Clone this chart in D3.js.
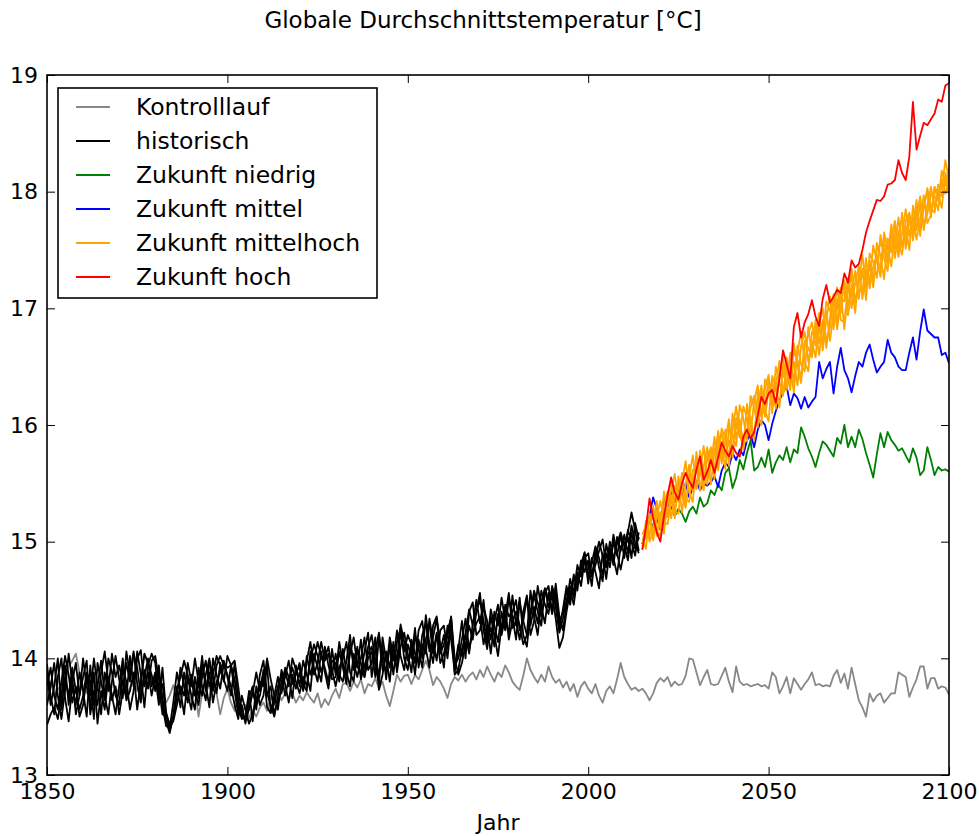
<!DOCTYPE html>
<html>
<head>
<meta charset="utf-8">
<script src="https://cdn.jsdelivr.net/npm/d3@7"></script>
<style>
  body { margin: 0; background: #fff; }
  text { font-family: "DejaVu Sans", sans-serif; fill: #000; }
  .axis path { display: none; }
  .axis line { stroke: #000; stroke-width: 1; }
  .axis text { font-size: 22px; }
</style>
</head>
<body>
<div class="chart"></div>
<script>
// yearly global mean temperature [°C]
var controlStart = 1850;
var control = [
  13.72, 13.80, 13.68, 13.75, 13.70, 13.85, 13.93, 13.98, 14.04, 13.88,
  13.76, 13.70, 13.82, 13.74, 13.66, 13.78, 13.72, 13.80, 13.68, 13.74,
  13.70, 13.79, 13.66, 13.75, 13.83, 13.72, 13.80, 14.03, 13.95, 13.82,
  13.74, 13.86, 13.70, 13.62, 13.68, 13.77, 13.66, 13.72, 13.80, 13.70,
  13.64, 13.76, 13.50, 13.70, 13.82, 13.74, 13.85, 13.70, 13.52, 13.66,
  13.74, 13.62, 13.55, 13.70, 13.52, 13.60, 13.49, 13.56, 13.50, 13.58,
  13.62, 13.55, 13.68, 13.60, 13.72, 13.64, 13.70, 13.66, 13.70, 13.62,
  13.68, 13.64, 13.71, 13.66, 13.62, 13.70, 13.58, 13.65, 13.60, 13.68,
  13.74, 13.66, 13.78, 13.79, 13.72, 13.80, 13.75, 13.82, 13.70, 13.78,
  13.76, 13.83, 13.74, 13.80, 13.68, 13.59, 13.72, 13.86, 13.80, 13.85,
  13.86, 13.78, 13.86, 13.82, 13.90, 13.98, 13.90, 13.77, 13.84, 13.80,
  13.74, 13.66, 13.78, 13.84, 13.81, 13.86, 13.80, 13.85, 13.88, 13.82,
  13.90, 13.84, 13.93, 13.86, 13.80, 13.88, 13.84, 13.94, 13.88, 13.80,
  13.76, 13.73, 13.85, 14.00, 13.90, 13.84, 13.79, 13.86, 13.80, 13.93,
  13.84, 13.79, 13.82, 13.75, 13.80, 13.72, 13.78, 13.67, 13.76, 13.80,
  13.74, 13.70, 13.78, 13.68, 13.62, 13.72, 13.76, 13.70, 13.82, 13.96,
  13.84, 13.78, 13.73, 13.75, 13.72, 13.74, 13.70, 13.64, 13.70, 13.79,
  13.83, 13.80, 13.84, 13.76, 13.80, 13.77, 13.78, 13.85, 14.00, 13.99,
  13.88, 13.77, 13.84, 13.90, 13.78, 13.77, 13.78, 13.85, 13.92, 13.80,
  13.71, 13.93, 13.80, 13.77, 13.78, 13.76, 13.77, 13.78, 13.76, 13.77,
  13.74, 13.88, 13.84, 13.70, 13.76, 13.84, 13.70, 13.83, 13.78, 13.73,
  13.78, 13.82, 13.88, 13.77, 13.78, 13.76, 13.77, 13.76, 13.85, 13.90,
  13.79, 13.87, 13.74, 13.92, 13.78, 13.64, 13.58, 13.50, 13.70, 13.63,
  13.68, 13.70, 13.62, 13.66, 13.70, 13.70, 13.88, 13.86, 13.84, 13.67,
  13.75, 13.82, 13.93, 13.93, 13.74, 13.83, 13.83, 13.74, 13.76, 13.75,
  13.69
];

var histStart = 1850;
var hist1 = [
  13.95, 13.68, 13.52, 13.84, 14.00, 13.66, 13.46, 13.76, 13.60, 13.88,
  13.72, 13.50, 13.94, 13.60, 13.76, 13.98, 13.68, 13.52, 13.80, 14.02,
  13.82, 13.66, 14.06, 13.86, 14.06, 13.78, 13.62, 13.90, 13.74, 13.98,
  14.02, 13.82, 13.66, 13.46, 13.36, 13.50, 13.76, 13.58, 13.88, 13.70,
  13.56, 13.84, 13.66, 13.94, 13.78, 13.58, 14.00, 13.86, 13.74, 13.96,
  13.92, 13.94, 13.72, 13.52, 13.60, 13.44, 13.66, 13.76, 13.56, 13.86,
  13.98, 13.70, 13.60, 13.50, 13.68, 13.90, 13.78, 13.62, 13.86, 13.74,
  13.88, 13.72, 13.98, 14.14, 13.92, 13.80, 14.06, 13.88, 13.74, 13.98,
  13.96, 13.80, 14.08, 13.88, 13.76, 14.04, 13.92, 14.16, 13.84, 14.00,
  14.06, 13.84, 14.18, 13.90, 14.02, 13.80, 14.10, 13.98, 14.29, 14.14,
  13.98, 14.08, 13.86, 14.16, 14.00, 14.37, 14.12, 13.96, 14.20, 14.04,
  14.12, 14.24, 14.34, 13.86, 13.90, 14.08, 14.20, 14.04, 14.30, 14.40,
  14.56, 14.24, 14.08, 14.36, 14.20, 14.02, 14.28, 14.44, 14.16, 14.32,
  14.40, 14.28, 14.12, 14.20, 14.58, 14.36, 14.20, 14.48, 14.60, 14.44,
  14.54, 14.34, 14.09, 14.18, 14.40, 14.58, 14.46, 14.70, 14.76, 14.90,
  14.64, 14.86, 14.74, 14.60, 14.90, 14.78, 15.00, 14.86, 14.72, 14.96,
  14.98, 15.08, 15.25, 15.10, 14.92
];
var hist2 = [
  13.43, 13.52, 13.58, 13.48, 13.68, 13.94, 13.60, 13.84, 13.52, 13.68,
  14.00, 13.76, 13.60, 13.88, 13.44, 13.72, 13.56, 13.84, 13.68, 13.52,
  13.76, 14.00, 13.64, 13.72, 13.88, 13.56, 13.80, 14.04, 13.96, 13.86,
  13.72, 13.94, 13.60, 13.42, 13.40, 13.62, 13.88, 13.72, 13.52, 13.84,
  13.68, 13.56, 13.92, 13.76, 13.64, 13.98, 13.84, 13.70, 13.96, 13.80,
  14.02, 13.94, 13.82, 13.58, 13.48, 13.50, 13.72, 13.46, 13.76, 13.60,
  13.68, 13.94, 13.54, 13.68, 13.84, 13.70, 13.92, 13.84, 13.66, 13.94,
  13.76, 13.98, 13.86, 13.72, 14.04, 13.92, 13.80, 14.10, 13.94, 13.82,
  13.84, 14.06, 13.92, 13.78, 14.12, 13.96, 13.84, 14.00, 14.18, 13.90,
  13.96, 14.18, 13.73, 13.86, 14.06, 13.92, 14.14, 13.88, 14.10, 14.22,
  14.04, 13.88, 14.20, 14.08, 13.92, 14.16, 14.30, 14.04, 14.22, 13.96,
  14.04, 14.20, 14.36, 14.00, 13.86, 13.96, 14.12, 14.28, 14.16, 14.40,
  14.50, 14.32, 14.12, 14.42, 14.28, 14.14, 14.40, 14.24, 14.52, 14.36,
  14.16, 14.48, 14.32, 14.20, 14.36, 14.54, 14.40, 14.28, 14.60, 14.50,
  14.58, 14.44, 14.22, 14.34, 14.50, 14.62, 14.52, 14.74, 14.62, 14.84,
  14.80, 14.62, 14.94, 14.78, 14.66, 14.98, 14.84, 15.06, 14.90, 14.76,
  14.92, 15.04, 14.86, 15.16, 15.02
];
var hist3 = [
  13.76, 13.92, 13.68, 13.56, 13.80, 14.02, 13.86, 13.62, 13.76, 13.50,
  13.60, 13.84, 13.68, 14.00, 13.76, 13.52, 13.88, 13.72, 14.04, 13.84,
  13.94, 13.78, 13.66, 14.02, 13.76, 14.06, 13.86, 13.58, 13.94, 14.04,
  13.96, 13.66, 13.78, 13.52, 13.44, 13.48, 13.68, 13.92, 13.76, 13.62,
  13.86, 13.72, 13.60, 13.84, 13.98, 13.76, 13.86, 14.02, 13.94, 13.82,
  13.72, 13.94, 13.98, 13.76, 13.52, 13.46, 13.58, 13.70, 13.88, 13.72,
  13.90, 13.58, 13.53, 13.62, 13.76, 13.86, 13.68, 13.82, 13.92, 13.80,
  13.70, 13.84, 13.76, 13.98, 14.12, 14.02, 13.88, 14.00, 14.10, 13.90,
  13.76, 13.92, 14.00, 14.14, 13.88, 13.80, 14.08, 13.96, 13.84, 14.10,
  14.20, 13.98, 13.86, 14.10, 13.82, 14.12, 13.98, 14.24, 14.02, 13.90,
  14.12, 14.00, 14.26, 13.92, 14.12, 14.04, 14.34, 14.14, 13.98, 14.24,
  14.28, 14.08, 14.35, 13.94, 14.00, 14.16, 14.34, 14.08, 14.22, 14.30,
  14.36, 14.12, 14.28, 14.04, 14.32, 14.46, 14.20, 14.36, 14.56, 14.26,
  14.32, 14.16, 14.40, 14.54, 14.28, 14.44, 14.30, 14.58, 14.46, 14.38,
  14.62, 14.50, 14.30, 14.40, 14.58, 14.46, 14.70, 14.62, 14.80, 14.91,
  14.70, 14.82, 14.96, 14.86, 14.72, 14.90, 14.78, 15.00, 14.88, 15.06,
  14.86, 15.10, 15.00, 14.88, 15.08
];
var hist4 = [
  13.60, 13.76, 13.96, 13.68, 13.48, 13.72, 14.04, 13.80, 13.96, 13.68,
  13.84, 13.98, 13.52, 13.72, 13.60, 13.88, 14.06, 13.80, 13.64, 13.76,
  13.52, 13.72, 13.96, 13.80, 14.04, 13.92, 13.68, 13.84, 14.00, 13.76,
  13.88, 13.76, 13.52, 13.50, 13.38, 13.50, 13.72, 13.84, 13.98, 13.86,
  13.76, 14.00, 13.80, 13.68, 13.86, 14.00, 13.72, 13.94, 14.02, 13.94,
  13.86, 13.76, 13.60, 13.48, 13.68, 13.56, 13.44, 13.52, 13.64, 13.80,
  13.76, 14.00, 13.82, 13.68, 13.56, 13.80, 13.90, 13.76, 14.00, 13.90,
  13.92, 13.74, 14.02, 13.86, 13.98, 14.14, 14.02, 13.92, 13.80, 14.08,
  13.86, 14.14, 13.96, 13.84, 14.04, 14.18, 13.94, 13.86, 14.06, 14.22,
  13.84, 14.06, 14.22, 13.98, 13.88, 14.18, 14.02, 13.92, 14.22, 14.06,
  14.20, 14.12, 13.96, 14.24, 14.32, 14.08, 13.92, 14.28, 14.36, 14.12,
  13.92, 14.28, 14.16, 13.88, 14.08, 14.32, 14.00, 14.40, 14.48, 14.20,
  14.24, 14.44, 14.32, 14.16, 14.40, 14.28, 14.52, 14.32, 14.22, 14.54,
  14.28, 14.52, 14.20, 14.10, 14.40, 14.58, 14.48, 14.36, 14.56, 14.62,
  14.40, 14.64, 14.36, 14.24, 14.46, 14.68, 14.56, 14.80, 14.70, 14.86,
  14.90, 14.72, 14.86, 15.00, 14.88, 14.68, 14.94, 14.80, 15.04, 14.92,
  15.06, 14.90, 15.14, 15.00, 14.90
];
var hist5 = [
  13.88, 13.60, 13.76, 14.00, 13.56, 13.84, 13.68, 13.92, 13.72, 13.56,
  13.68, 13.88, 13.80, 13.48, 13.96, 13.80, 13.64, 14.00, 13.88, 13.68,
  13.60, 13.92, 13.80, 13.56, 13.72, 14.00, 14.07, 13.76, 13.88, 13.68,
  13.84, 13.60, 13.92, 13.54, 13.42, 13.46, 13.60, 13.76, 13.68, 13.96,
  13.80, 13.68, 13.76, 14.02, 13.72, 13.88, 13.62, 13.80, 13.88, 13.98,
  13.84, 13.68, 13.96, 13.64, 13.50, 13.48, 13.56, 13.72, 13.60, 13.68,
  13.84, 13.68, 13.76, 13.52, 13.64, 13.72, 13.84, 13.98, 13.78, 13.86,
  13.96, 13.78, 13.72, 14.06, 13.86, 13.96, 14.14, 13.98, 14.04, 13.86,
  14.04, 13.86, 13.80, 13.98, 14.20, 13.90, 14.10, 13.82, 13.94, 14.04,
  14.10, 13.94, 13.78, 14.18, 13.98, 14.10, 13.86, 14.14, 14.26, 14.00,
  13.90, 14.16, 14.04, 13.96, 14.20, 14.30, 14.06, 14.18, 14.34, 14.06,
  14.20, 14.00, 14.30, 13.92, 14.12, 14.02, 14.22, 14.42, 14.28, 14.50,
  14.30, 14.50, 14.18, 14.26, 14.10, 14.38, 14.22, 14.46, 14.36, 14.40,
  14.50, 14.24, 14.32, 14.52, 14.20, 14.32, 14.62, 14.44, 14.30, 14.56,
  14.38, 14.58, 14.26, 14.42, 14.62, 14.50, 14.72, 14.58, 14.84, 14.74,
  14.84, 14.70, 14.80, 14.92, 15.02, 14.78, 14.94, 14.86, 14.98, 15.08,
  14.96, 14.84, 15.08, 14.94, 15.04
];

var futureStart = 2015;
var futureLow = [
  14.98, 15.06, 15.20, 15.12, 15.21, 15.10, 15.18, 15.26, 15.30, 15.22,
  15.28, 15.24, 15.17, 15.26, 15.30, 15.24, 15.38, 15.30, 15.33, 15.44,
  15.40, 15.49, 15.44, 15.59, 15.63, 15.46, 15.55, 15.70, 15.62, 15.76,
  15.87, 15.61, 15.64, 15.72, 15.64, 15.79, 15.59, 15.68, 15.74, 15.70,
  15.81, 15.68, 15.79, 15.76, 15.98, 15.90, 15.80, 15.73, 15.64, 15.76,
  15.86, 15.83, 15.78, 15.73, 15.89, 15.84, 16.00, 15.81, 15.90, 15.81,
  15.96, 15.88, 15.76, 15.66, 15.55, 15.75, 15.93, 15.81, 15.94, 15.87,
  15.83, 15.78, 15.80, 15.74, 15.68, 15.80, 15.72, 15.57, 15.61, 15.81,
  15.70, 15.57, 15.64, 15.61, 15.62, 15.60
];
var futureMid = [
  14.98, 15.10, 15.22, 15.38, 15.28, 15.20, 15.36, 15.30, 15.42, 15.34,
  15.45, 15.40, 15.50, 15.38, 15.46, 15.52, 15.44, 15.50, 15.48, 15.51,
  15.56, 15.47, 15.61, 15.68, 15.64, 15.76, 15.70, 15.79, 15.74, 15.87,
  15.92, 15.81, 15.96, 16.04, 16.00, 15.87, 16.01, 16.12, 16.21, 16.28,
  16.33, 16.17, 16.27, 16.23, 16.14, 16.24, 16.15, 16.20, 16.24, 16.54,
  16.40, 16.48, 16.54, 16.27, 16.50, 16.66, 16.47, 16.40, 16.28, 16.42,
  16.54, 16.50, 16.62, 16.69, 16.56, 16.45, 16.50, 16.54, 16.73, 16.62,
  16.58, 16.50, 16.47, 16.47, 16.62, 16.75, 16.56, 16.80, 16.99, 16.81,
  16.78, 16.75, 16.75, 16.60, 16.62, 16.53
];
var futureMidHigh1 = [
  15.02, 14.94, 15.24, 15.07, 15.27, 15.11, 15.43, 15.21, 15.40, 15.20,
  15.56, 15.39, 15.29, 15.56, 15.74, 15.45, 15.62, 15.44, 15.79, 15.71,
  15.60, 15.95, 15.73, 15.96, 15.65, 15.96, 16.16, 15.91, 15.82, 16.12,
  16.07, 15.87, 16.28, 16.08, 16.31, 16.43, 16.14, 16.34, 16.15, 16.51,
  16.46, 16.30, 16.70, 16.50, 16.36, 16.72, 16.66, 16.58, 16.90, 16.70,
  16.90, 16.66, 16.92, 17.12, 16.88, 17.14, 16.82, 17.14, 17.28, 17.04,
  17.22, 17.46, 17.17, 17.39, 17.18, 17.56, 17.45, 17.25, 17.60, 17.48,
  17.71, 17.50, 17.82, 17.51, 17.74, 17.70, 17.93, 17.62, 17.89, 17.99,
  17.78, 18.04, 17.92, 18.18, 18.06, 18.20
];
var futureMidHigh2 = [
  14.94, 15.18, 15.04, 15.31, 15.05, 15.25, 15.07, 15.39, 15.52, 15.26,
  15.24, 15.51, 15.69, 15.42, 15.34, 15.71, 15.60, 15.82, 15.53, 15.65,
  15.90, 15.61, 15.85, 15.62, 15.97, 15.90, 15.82, 16.17, 16.06, 15.86,
  16.25, 16.15, 15.98, 16.28, 16.13, 16.03, 16.42, 16.34, 16.55, 16.27,
  16.36, 16.62, 16.36, 16.62, 16.80, 16.54, 16.46, 16.80, 16.74, 16.96,
  16.64, 16.90, 17.10, 16.82, 17.08, 16.96, 17.24, 16.94, 17.14, 17.32,
  17.08, 17.34, 17.07, 17.47, 17.40, 17.26, 17.63, 17.43, 17.32, 17.64,
  17.51, 17.78, 17.52, 17.71, 17.50, 17.88, 17.67, 17.90, 17.67, 17.89,
  18.04, 17.86, 18.06, 18.02, 18.27, 18.10
];
var futureMidHigh3 = [
  15.04, 15.02, 15.18, 15.29, 15.09, 15.05, 15.31, 15.43, 15.20, 15.38,
  15.50, 15.25, 15.49, 15.66, 15.44, 15.77, 15.44, 15.64, 15.81, 15.49,
  15.78, 15.91, 15.67, 15.86, 16.05, 15.72, 16.02, 15.89, 16.16, 16.06,
  15.91, 16.21, 16.34, 16.06, 16.17, 16.39, 16.10, 16.50, 16.37, 16.25,
  16.54, 16.36, 16.54, 16.34, 16.68, 16.80, 16.54, 16.72, 16.58, 16.86,
  17.00, 16.72, 16.84, 17.08, 16.82, 17.08, 17.06, 17.26, 17.00, 17.22,
  17.36, 17.08, 17.33, 17.23, 17.54, 17.40, 17.27, 17.59, 17.42, 17.72,
  17.43, 17.64, 17.78, 17.59, 17.80, 17.58, 17.79, 17.96, 17.71, 17.81,
  17.98, 17.96, 17.84, 18.10, 17.98, 18.14
];
var futureMidHigh4 = [
  15.06, 15.14, 15.00, 15.09, 15.35, 15.15, 15.11, 15.33, 15.44, 15.58,
  15.34, 15.47, 15.31, 15.58, 15.54, 15.45, 15.78, 15.56, 15.49, 15.77,
  15.64, 15.73, 15.97, 15.88, 15.71, 16.10, 15.88, 16.05, 15.78, 16.18,
  15.99, 15.91, 16.14, 16.34, 16.07, 16.29, 16.38, 16.14, 16.41, 16.59,
  16.30, 16.48, 16.28, 16.68, 16.52, 16.46, 16.84, 16.60, 16.82, 16.60,
  16.86, 16.98, 16.72, 16.96, 17.18, 16.90, 16.88, 17.18, 17.34, 17.08,
  17.16, 17.14, 17.43, 17.17, 17.36, 17.46, 17.33, 17.65, 17.52, 17.36,
  17.63, 17.44, 17.64, 17.85, 17.62, 17.78, 17.59, 17.76, 17.97, 17.73,
  17.80, 18.04, 17.98, 17.86, 18.16, 18.02
];
var futureMidHigh5 = [
  14.96, 15.08, 15.20, 15.01, 15.21, 15.35, 15.17, 15.15, 15.34, 15.48,
  15.40, 15.59, 15.37, 15.34, 15.62, 15.59, 15.72, 15.52, 15.71, 15.81,
  15.54, 15.83, 15.93, 15.72, 15.87, 15.80, 16.06, 16.01, 15.86, 15.94,
  16.15, 16.25, 16.08, 16.00, 16.39, 16.33, 16.24, 16.16, 16.45, 16.41,
  16.58, 16.42, 16.62, 16.56, 16.40, 16.68, 16.78, 16.88, 16.68, 16.82,
  16.72, 17.06, 16.98, 16.90, 17.00, 17.18, 17.14, 17.02, 17.20, 16.96,
  17.30, 17.28, 17.21, 17.41, 17.22, 17.50, 17.55, 17.51, 17.38, 17.60,
  17.75, 17.56, 17.46, 17.75, 17.82, 17.64, 17.85, 17.70, 17.85, 18.03,
  17.86, 17.82, 18.02, 17.96, 18.08, 17.98
];
var futureHigh = [
  14.93, 15.12, 15.37, 15.20, 15.08, 15.00, 15.22, 15.40, 15.55, 15.42,
  15.36, 15.50, 15.59, 15.52, 15.46, 15.62, 15.73, 15.53, 15.60, 15.70,
  15.59, 15.72, 15.85, 15.78, 15.73, 15.82, 15.76, 15.73, 15.90, 15.96,
  15.88, 15.94, 16.08, 16.24, 16.18, 16.27, 16.30, 16.19, 16.40, 16.64,
  16.52, 16.40, 16.84, 16.96, 16.75, 16.88, 16.95, 17.07, 16.93, 16.85,
  17.08, 17.20, 17.05, 17.10, 17.16, 17.13, 17.30, 17.22, 17.41, 17.35,
  17.38, 17.50, 17.65, 17.75, 17.84, 17.93, 17.92, 17.96, 18.06, 18.07,
  18.10, 18.27, 18.16, 18.10, 18.30, 18.77, 18.36, 18.48, 18.59, 18.57,
  18.62, 18.67, 18.79, 18.77, 18.91, 18.93
];

var legendLabels = ['Kontrolllauf', 'historisch', 'Zukunft niedrig', 'Zukunft mittel', 'Zukunft mittelhoch', 'Zukunft hoch'];
var legendColors = ['#888888', '#000000', '#008000', '#0000ff', '#ffa500', '#ff0000'];
var xTicks = [1850, 1900, 1950, 2000, 2050, 2100];
var yTicks = [13, 14, 15, 16, 17, 18, 19];

// set up chart size
var svgWidth = 979;
var svgHeight = 836;
var margin = { top: 75, bottom: 61, right: 30, left: 47 };
var width = svgWidth - margin.left - margin.right;
var height = svgHeight - margin.top - margin.bottom;

var root = d3.select('.chart')
  .append('svg')
  .attr('width', svgWidth)
  .attr('height', svgHeight);

var chart = root.append('g')
  .attr('transform', `translate(${margin.left}, ${margin.top})`);

var xScale = d3.scaleLinear().domain([1850, 2100]).range([0, width]);
var yScale = d3.scaleLinear().domain([13, 19]).range([height, 0]);

// series in drawing order: control, historical, then scenarios
var series = [
  { start: controlStart, values: control, color: legendColors[0] },
  { start: histStart, values: hist1, color: legendColors[1] },
  { start: histStart, values: hist2, color: legendColors[1] },
  { start: histStart, values: hist3, color: legendColors[1] },
  { start: histStart, values: hist4, color: legendColors[1] },
  { start: histStart, values: hist5, color: legendColors[1] },
  { start: futureStart, values: futureLow, color: legendColors[2] },
  { start: futureStart, values: futureMid, color: legendColors[3] },
  { start: futureStart, values: futureMidHigh1, color: legendColors[4] },
  { start: futureStart, values: futureMidHigh2, color: legendColors[4] },
  { start: futureStart, values: futureMidHigh3, color: legendColors[4] },
  { start: futureStart, values: futureMidHigh4, color: legendColors[4] },
  { start: futureStart, values: futureMidHigh5, color: legendColors[4] },
  { start: futureStart, values: futureHigh, color: legendColors[5] }
];

var line = d3.line()
  .x(function(d) { return xScale(d.year); })
  .y(function(d) { return yScale(d.value); });

chart.append('defs').append('clipPath').attr('id', 'plot-clip')
  .append('rect').attr('width', width).attr('height', height);

var lines = chart.append('g').attr('clip-path', 'url(#plot-clip)');

series.forEach(function(s) {
  var pts = s.values.map(function(v, i) { return { year: s.start + i, value: v }; });
  lines.append('path')
    .datum(pts)
    .attr('d', line)
    .attr('fill', 'none')
    .attr('stroke', s.color)
    .attr('stroke-width', 1.8)
    .attr('stroke-linejoin', 'round');
});

// axes with inward ticks on all four sides
chart.append('g').attr('class', 'axis')
  .attr('transform', `translate(0, ${height})`)
  .call(d3.axisBottom(xScale).tickValues(xTicks).tickFormat(d3.format('d')).tickSize(-8).tickPadding(8));
chart.append('g').attr('class', 'axis')
  .call(d3.axisTop(xScale).tickValues(xTicks).tickFormat('').tickSize(-8));
chart.append('g').attr('class', 'axis')
  .call(d3.axisLeft(yScale).tickValues(yTicks).tickFormat(d3.format('d')).tickSize(-8).tickPadding(9));
chart.append('g').attr('class', 'axis')
  .attr('transform', `translate(${width}, 0)`)
  .call(d3.axisRight(yScale).tickValues(yTicks).tickFormat('').tickSize(-8));

// frame
chart.append('rect')
  .attr('width', width)
  .attr('height', height)
  .attr('fill', 'none')
  .attr('stroke', '#000')
  .attr('stroke-width', 1.6);

// title and x label
root.append('text')
  .attr('x', 483)
  .attr('y', 28)
  .attr('text-anchor', 'middle')
  .style('font-size', '23px')
  .text('Globale Durchschnittstemperatur [°C]');

root.append('text')
  .attr('x', margin.left + width / 2)
  .attr('y', 830)
  .attr('text-anchor', 'middle')
  .style('font-size', '22px')
  .text('Jahr');

// legend
var legend = root.append('g').attr('transform', 'translate(58, 88)');
legend.append('rect')
  .attr('width', 319)
  .attr('height', 210)
  .attr('fill', '#fff')
  .attr('stroke', '#000')
  .attr('stroke-width', 1.6);

legendLabels.forEach(function(label, i) {
  var cy = 19 + i * 34;
  legend.append('line')
    .attr('x1', 18).attr('x2', 52)
    .attr('y1', cy).attr('y2', cy)
    .attr('stroke', legendColors[i])
    .attr('stroke-width', 1.8);
  legend.append('text')
    .attr('x', 78)
    .attr('y', cy)
    .attr('dy', '0.35em')
    .style('font-size', '23.5px')
    .text(label);
});
</script>
</body>
</html>
